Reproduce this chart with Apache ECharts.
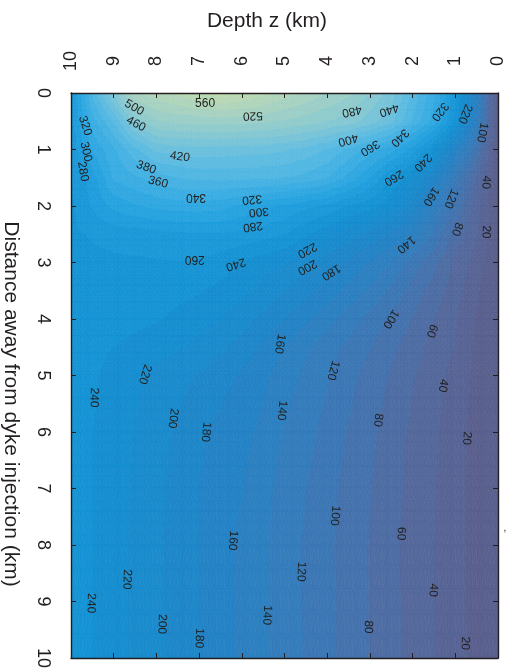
<!DOCTYPE html>
<html>
<head>
<meta charset="utf-8">
<script src="https://cdn.jsdelivr.net/npm/echarts@6/dist/echarts.min.js"></script>
<style>
  html, body { margin: 0; padding: 0; background: #fff; }
  #chart { width: 507px; height: 671px; }
</style>
</head>
<body>
<div id="chart"></div>
<script>
// grid nodes
const depthKm = [0, 0.5, 1, 1.5, 2, 2.5, 3, 3.5, 4, 4.5, 5, 5.5, 6, 6.5, 7, 7.5, 8, 8.5, 9, 9.5, 10]
const distanceKm = [0, 0.5, 1, 1.5, 2, 2.5, 3, 3.5, 4, 4.5, 5, 6, 7, 8, 10]

// temperature (°C), one row per distance, columns follow depthKm
const temperatureRows = [
  [0, 160, 265, 345, 395, 450, 478, 505, 520, 535, 550, 566, 582, 592, 580, 565, 552, 538, 465, 383, 265],
  [0, 145, 250, 330, 378, 425, 450, 470, 480, 490, 498, 504, 507, 508, 507, 505, 498, 468, 400, 350, 270],
  [0, 97, 169, 238, 290, 328, 350, 375, 398, 413, 422, 428, 430, 431, 432, 430, 425, 394, 355, 322, 262],
  [0, 61, 119, 182, 226, 258, 300, 333, 360, 373, 380, 383, 384, 385, 384, 380, 369, 356, 343, 290, 258],
  [0, 46, 99, 142, 190, 228, 247, 258, 275, 285, 297, 305, 316, 327, 332, 330, 325, 318, 305, 282, 256],
  [0, 41, 72, 116, 152, 176, 194, 210, 226, 243, 260, 268, 274, 277, 277, 275, 272, 270, 267, 262, 256],
  [0, 30, 56, 86, 110, 139, 158, 175, 191, 206, 220, 229, 239, 250, 258, 259, 258, 257, 256, 255, 253],
  [0, 23, 48, 71, 92, 114, 136, 154, 171, 186, 200, 213, 226, 234, 242, 246, 249, 250, 251, 251, 252],
  [0, 18, 42, 60, 79, 97, 113, 130, 147, 164, 180, 195, 208, 220, 228, 235, 242, 245, 247, 249, 251],
  [0, 16, 39, 53, 69, 85, 101, 115, 128, 143, 159, 176, 192, 204, 214, 222, 228, 235, 240, 245, 249],
  [0, 15, 32, 48, 62, 78, 92, 107, 122, 135, 150, 164, 177, 187, 198, 207, 215, 224, 234, 243, 250],
  [0, 13, 28, 43, 56, 70, 85, 98, 113, 127, 138, 155, 166, 174, 183, 196, 208, 219, 230, 240, 250],
  [0, 13, 27, 41, 54, 67, 81, 93, 107, 120, 132, 146, 161, 170, 180, 193, 205, 217, 228, 240, 251],
  [0, 13, 26, 40, 52, 65, 79, 91, 104, 117, 130, 143, 155, 167, 180, 192, 204, 216, 228, 240, 251],
  [0, 14, 27, 40, 53, 66, 79, 92, 105, 118, 130, 143, 155, 168, 180, 193, 205, 216, 228, 240, 251]
]

const axisTicks = [0, 1, 2, 3, 4, 5, 6, 7, 8, 9, 10]
const bandStep = 20
const bandCount = 30

// contour labels: [value, depth km, distance km]
const contourLabels = [
  [560, 6.86, 0.19], [520, 5.74, 0.40], [500, 8.52, 0.26], [460, 8.48, 0.55],
  [480, 3.42, 0.32], [440, 2.55, 0.30], [320, 1.36, 0.33], [220, 0.77, 0.37],
  [100, 0.37, 0.70], [400, 3.51, 0.83], [360, 3.00, 0.97], [340, 2.30, 0.79],
  [240, 1.76, 1.23], [260, 2.44, 1.50], [160, 1.57, 1.83], [120, 1.10, 1.87],
  [40, 0.28, 1.58], [420, 7.45, 1.13], [380, 8.24, 1.32], [360, 7.96, 1.58],
  [340, 7.07, 1.85], [320, 5.76, 1.88], [300, 5.60, 2.10], [280, 5.74, 2.36],
  [320, 9.67, 0.58], [300, 9.65, 1.04], [280, 9.72, 1.39], [260, 7.10, 2.94],
  [240, 6.14, 3.03], [220, 4.47, 2.78], [200, 4.47, 3.08], [180, 3.91, 3.17],
  [140, 2.15, 2.68], [80, 0.96, 2.41], [20, 0.28, 2.46], [100, 2.51, 4.00],
  [60, 1.55, 4.21], [120, 3.86, 4.91], [40, 1.29, 5.18], [80, 2.81, 5.79],
  [20, 0.73, 6.11], [160, 5.11, 4.44], [140, 5.06, 5.62], [240, 9.46, 5.39],
  [220, 8.27, 4.98], [200, 7.61, 5.76], [180, 6.84, 6.00], [160, 6.21, 7.92],
  [220, 8.69, 8.61], [240, 9.53, 9.03], [200, 7.87, 9.40], [180, 7.00, 9.65],
  [140, 5.41, 9.24], [100, 3.82, 7.48], [60, 2.27, 7.80], [120, 4.61, 8.47],
  [40, 1.52, 8.80], [80, 3.04, 9.45], [20, 0.77, 9.74]
]
// text angle, degrees clockwise
const labelAngles = [
  0, 178, 30, 28, 168, 162, 128, 112, 100, 165, 148, 135, 135, 150, 122, 112,
  95, 8, 20, 15, 180, 175, 175, 172, 72, 78, 80, 180, 162, 152, 152, 148,
  140, 108, 92, 122, 110, 105, 100, 97, 95, 100, 95, 92, 108, 97, 95, 94,
  92, 92, 92, 92, 93, 95, 93, 93, 93, 92, 92
]

const colorStops = [
  [0, [92, 94, 138]],
  [60, [82, 106, 160]],
  [120, [56, 122, 185]],
  [180, [32, 133, 199]],
  [240, [20, 144, 210]],
  [300, [34, 160, 222]],
  [360, [64, 175, 228]],
  [420, [100, 190, 224]],
  [480, [140, 202, 208]],
  [540, [172, 212, 190]],
  [600, [195, 220, 172]]
]

const colorAt = (t) => {
  for (let k = 1; k < colorStops.length; k++) {
    const [t1, c1] = colorStops[k]
    const [t0, c0] = colorStops[k - 1]
    if (t <= t1 || k === colorStops.length - 1) {
      const s = Math.min(1, Math.max(0, (t - t0) / (t1 - t0)))
      const c = c0.map((v, n) => Math.round(v + s * (c1[n] - v)))
      return `rgb(${c[0]},${c[1]},${c[2]})`
    }
  }
}
const bandColors = Array.from({ length: bandCount }, (_, k) => colorAt((k + 0.5) * bandStep))

const bandOf = (t) => Math.min(bandCount - 1, Math.max(0, Math.floor(t / bandStep)))

const clipPoly = (poly, level, keepAbove) => {
  const out = []
  for (let k = 0; k < poly.length; k++) {
    const p = poly[k]
    const q = poly[(k + 1) % poly.length]
    const pin = keepAbove ? p[2] >= level : p[2] <= level
    const qin = keepAbove ? q[2] >= level : q[2] <= level
    if (pin) out.push(p)
    if (pin !== qin) {
      const s = (level - p[2]) / (q[2] - p[2])
      out.push([p[0] + s * (q[0] - p[0]), p[1] + s * (q[1] - p[1]), level])
    }
  }
  return out
}

const cells = []
for (let j = 0; j < distanceKm.length - 1; j++) {
  for (let i = 0; i < depthKm.length - 1; i++) {
    cells.push([(depthKm[i] + depthKm[i + 1]) / 2, (distanceKm[j] + distanceKm[j + 1]) / 2, i, j])
  }
}

const SUB = 5
const renderCell = (params, api) => {
  const i = api.value(2)
  const j = api.value(3)
  const z0 = depthKm[i], z1 = depthKm[i + 1]
  const d0 = distanceKm[j], d1 = distanceKm[j + 1]
  const t00 = temperatureRows[j][i], t10 = temperatureRows[j][i + 1]
  const t01 = temperatureRows[j + 1][i], t11 = temperatureRows[j + 1][i + 1]
  const node = (u, v) => [
    z0 + (z1 - z0) * u,
    d0 + (d1 - d0) * v,
    t00 * (1 - u) * (1 - v) + t10 * u * (1 - v) + t01 * (1 - u) * v + t11 * u * v
  ]
  const children = []
  const pushPoly = (poly, k) => {
    const points = poly.map((p) => api.coord([p[0], p[1]]))
    children.push({
      type: 'polygon',
      shape: { points },
      style: { fill: bandColors[k], stroke: bandColors[k], lineWidth: 0.7 },
      silent: true
    })
  }
  for (let a = 0; a < SUB; a++) {
    for (let b = 0; b < SUB; b++) {
      const p00 = node(a / SUB, b / SUB)
      const p10 = node((a + 1) / SUB, b / SUB)
      const p11 = node((a + 1) / SUB, (b + 1) / SUB)
      const p01 = node(a / SUB, (b + 1) / SUB)
      for (const tri of [[p00, p10, p11], [p00, p11, p01]]) {
        const ts = tri.map((p) => p[2])
        const kMin = bandOf(Math.min(...ts))
        const kMax = bandOf(Math.max(...ts))
        if (kMin === kMax) {
          pushPoly(tri, kMin)
          continue
        }
        for (let k = kMin; k <= kMax; k++) {
          let poly = tri
          if (k > kMin) poly = clipPoly(poly, k * bandStep, true)
          if (k < kMax) poly = clipPoly(poly, (k + 1) * bandStep, false)
          if (poly.length >= 3) pushPoly(poly, k)
        }
      }
    }
  }
  return { type: 'group', children }
}

const renderLabel = (params, api) => {
  const pos = api.coord([api.value(0), api.value(1)])
  return {
    type: 'text',
    x: pos[0],
    y: pos[1],
    rotation: (-labelAngles[params.dataIndex] * Math.PI) / 180,
    silent: true,
    style: {
      text: String(api.value(2)),
      fontSize: 12,
      fontFamily: 'Liberation Sans, Arial, sans-serif',
      fill: '#222222',
      align: 'center',
      verticalAlign: 'middle'
    }
  }
}

const frameColor = '#231f20'
const baseAxis = {
  type: 'value',
  min: 0,
  max: 10,
  interval: 1,
  inverse: true,
  z: 10,
  axisLine: { show: true, onZero: false, lineStyle: { color: frameColor, width: 1.4 } },
  axisTick: { show: true, inside: true, length: 5, lineStyle: { color: frameColor, width: 1 } },
  splitLine: { show: false }
}
const tickLabel = {
  rotate: -90,
  align: 'center',
  verticalAlign: 'middle',
  fontSize: 18,
  color: frameColor,
  fontFamily: 'Liberation Sans, Arial, sans-serif',
  formatter: (v) => (axisTicks.includes(v) ? String(v) : '')
}

const chart = echarts.init(document.getElementById('chart'))
chart.setOption({
  animation: false,
  grid: { left: 71, top: 93, width: 427, height: 568 },
  xAxis: [
    { ...baseAxis, position: 'top', axisLabel: { ...tickLabel, margin: 32 } },
    { ...baseAxis, position: 'bottom', axisLabel: { show: false } }
  ],
  yAxis: [
    { ...baseAxis, position: 'left', axisLabel: { ...tickLabel, margin: 28 } },
    { ...baseAxis, position: 'right', axisLabel: { show: false } }
  ],
  graphic: [
    {
      type: 'text',
      x: 267,
      y: 21,
      style: {
        text: 'Depth z (km)',
        fontSize: 21,
        fontFamily: 'Liberation Sans, Arial, sans-serif',
        fill: frameColor,
        align: 'center',
        verticalAlign: 'middle'
      }
    },
    {
      type: 'text',
      x: 11,
      y: 404,
      rotation: -Math.PI / 2,
      style: {
        text: 'Distance away from dyke injection (km)',
        fontSize: 21,
        fontFamily: 'Liberation Sans, Arial, sans-serif',
        fill: frameColor,
        align: 'center',
        verticalAlign: 'middle'
      }
    },
    {
      type: 'text',
      x: 505,
      y: 528,
      style: { text: ',', fontSize: 10, fill: frameColor, align: 'center', verticalAlign: 'middle' }
    }
  ],
  series: [
    {
      name: 'temperature',
      type: 'custom',
      xAxisIndex: 0,
      yAxisIndex: 0,
      clip: true,
      silent: true,
      encode: { x: 0, y: 1 },
      data: cells,
      renderItem: renderCell
    },
    {
      name: 'contour labels',
      type: 'custom',
      xAxisIndex: 0,
      yAxisIndex: 0,
      silent: true,
      encode: { x: 0, y: 1 },
      data: contourLabels.map(([v, z, d]) => [z, d, v]),
      renderItem: renderLabel,
      z: 5
    }
  ]
})
</script>
</body>
</html>
